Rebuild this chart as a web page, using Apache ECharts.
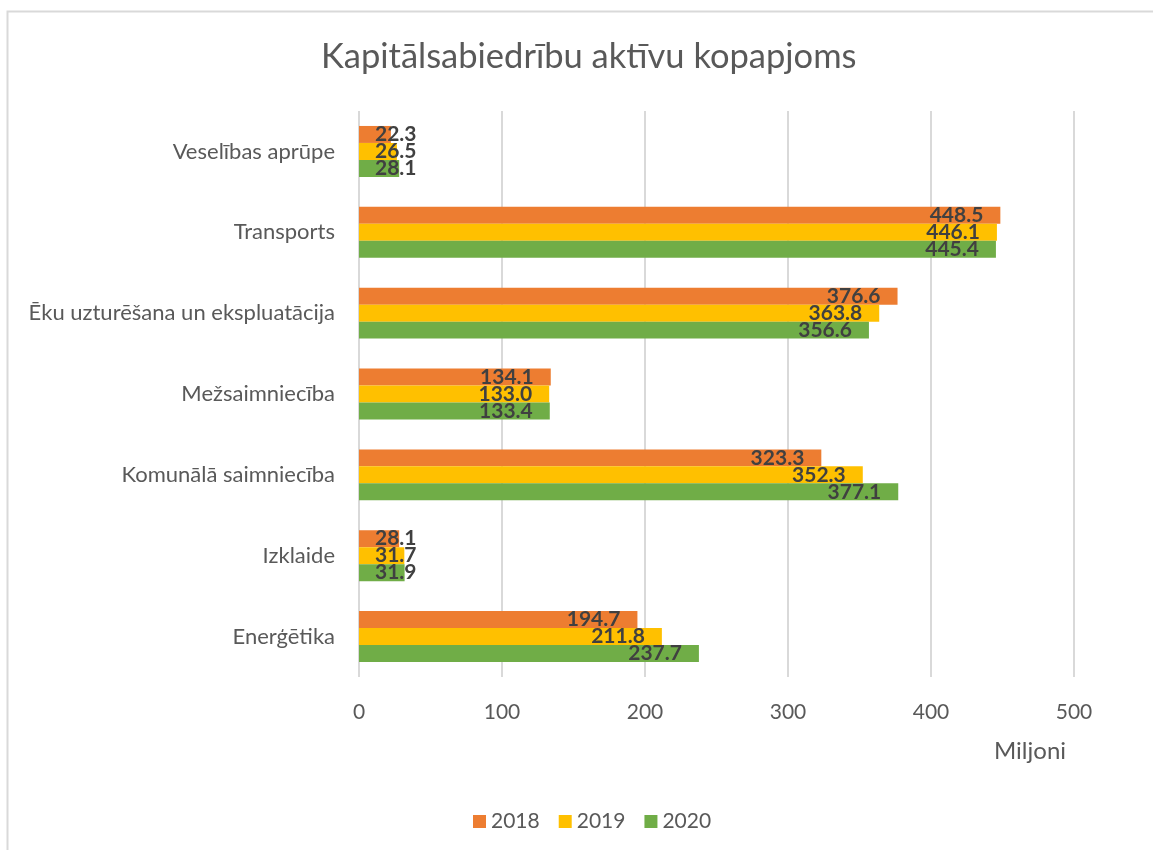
<!DOCTYPE html>
<html>
<head>
<meta charset="utf-8">
<title>Kapitālsabiedrību aktīvu kopapjoms</title>
<script src="https://cdn.jsdelivr.net/npm/echarts@6/dist/echarts.min.js"></script>
<style>
    html, body { margin: 0; padding: 0; background: #fff; }
    #chart { width: 1153px; height: 850px; }
</style>
</head>
<body>
<div id="chart"></div>
<script>
// categories listed bottom -> top (ECharts category yAxis starts at the bottom)
var categories = ['Enerģētika', 'Izklaide', 'Komunālā saimniecība', 'Mežsaimniecība',
    'Ēku uzturēšana un ekspluatācija', 'Transports', 'Veselības aprūpe'];
var years = ['2018', '2019', '2020'];
var values2018 = [194.7, 28.1, 323.3, 134.1, 376.6, 448.5, 22.3];
var values2019 = [211.8, 31.7, 352.3, 133.0, 363.8, 446.1, 26.5];
var values2020 = [237.7, 31.9, 377.1, 133.4, 356.6, 445.4, 28.1];
var xTicks = [0, 100, 200, 300, 400, 500];
var colors = ['#ED7D31', '#FFC000', '#70AD47'];

var FONT = 'Lato, "Open Sans", sans-serif';
var textGray = '#595959';

// Excel "inside end" labels: short bars get their label pushed off the base
function items(vals) {
    return vals.map(function (v) {
        if (v < 60) {
            return { value: v, label: { position: 'insideLeft', distance: 16 } };
        }
        return { value: v };
    });
}

function makeSeries(name, vals, color) {
    return {
        name: name,
        type: 'bar',
        data: items(vals),
        barGap: '0%',
        barCategoryGap: '37%',
        itemStyle: { color: color },
        label: {
            show: true,
            position: 'insideRight',
            distance: 17,
            color: '#404040',
            fontFamily: FONT,
            fontWeight: 'bold',
            fontSize: 21,
            formatter: function (p) { return p.value.toFixed(1); }
        }
    };
}

var chart = echarts.init(document.getElementById('chart'));
chart.setOption({
    backgroundColor: '#fff',
    animation: false,
    textStyle: { fontFamily: FONT },
    title: [{
        text: 'Kapitālsabiedrību aktīvu kopapjoms',
        left: 316,
        top: 34,
        textStyle: { color: textGray, fontFamily: FONT, fontWeight: 'normal', fontSize: 34.5 }
    }, {
        text: 'Miljoni',
        left: 989,
        top: 734,
        textStyle: { color: textGray, fontFamily: FONT, fontWeight: 'normal', fontSize: 24 }
    }],
    graphic: [{
        type: 'rect',
        shape: { x: 7.5, y: 11.5, width: 1300, height: 1000 },
        style: { fill: 'none', stroke: '#d9d9d9', lineWidth: 2 },
        silent: true
    }],
    legend: {
        data: years,
        left: 468,
        top: 806,
        icon: 'rect',
        itemWidth: 13,
        itemHeight: 13,
        itemGap: 19,
        textStyle: { color: textGray, fontFamily: FONT, fontSize: 21 }
    },
    grid: { left: 359, right: 79, top: 111, bottom: 173, containLabel: false },
    xAxis: {
        type: 'value',
        min: xTicks[0],
        max: xTicks[xTicks.length - 1],
        interval: 100,
        axisLine: { show: false },
        axisTick: { show: false },
        splitLine: { lineStyle: { color: '#d9d9d9', width: 2 } },
        axisLabel: { color: textGray, fontFamily: FONT, fontSize: 21, margin: 25 }
    },
    yAxis: {
        type: 'category',
        data: categories,
        axisLine: { show: false },
        axisTick: { show: false },
        axisLabel: { color: textGray, fontFamily: FONT, fontSize: 22, margin: 24 }
    },
    series: [
        makeSeries(years[0], values2018, colors[0]),
        makeSeries(years[1], values2019, colors[1]),
        makeSeries(years[2], values2020, colors[2])
    ]
});
</script>
</body>
</html>
